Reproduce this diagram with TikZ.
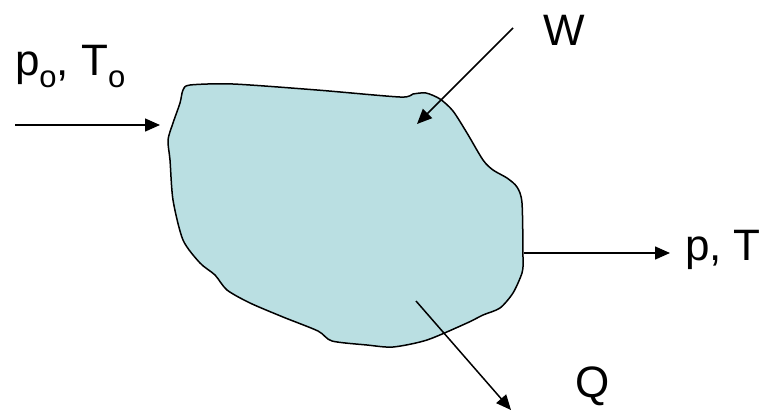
\documentclass[tikz,border=0pt]{standalone}
\usepackage{fontspec}
\setmainfont{Liberation Sans}
\usetikzlibrary{arrows.meta}
\definecolor{blobfill}{RGB}{186,223,226}
\newcommand{\lowsub}[1]{\raisebox{-12bp}{\fontsize{31bp}{32bp}\selectfont #1}}
\tikzset{
  lbl/.style={anchor=base west, inner sep=0pt, outer sep=0pt, font=\fontsize{44bp}{50bp}\selectfont},
  flow/.style={line width=1.5bp, -{Triangle[length=15bp,width=13bp]}},
  blob/.style={draw=black, line width=1.5bp, fill=blobfill}
}
\begin{document}
\begin{tikzpicture}[x=1bp,y=-1bp]
\useasboundingbox (0,0) rectangle (769,412);
\fill[white] (0,0) rectangle (769,412);
% control volume
\draw[blob] plot[smooth cycle, tension=0.45] coordinates {
 (190,85) (233,84) (317,90) (400,97) (413,94) (426,93) (440,99) (453,111) (467,133)
 (483,160) (493,170) (507,178) (517,187) (522,203) (523,260) (522,273)
 (513,293) (500,308) (483,315) (467,323) (427,340) (393,347) (367,345)
 (332,341) (318,331) (283,317) (250,303) (227,290) (215,275) (200,263)
 (183,240) (173,200) (170,160) (168,140) (173,123) (180,103) (183,90)};
% labels
\node[lbl] (lin) at (15,75) {p\lowsub{o}, T\lowsub{o}};
\node[lbl] (lw) at (543,45) {W};
\node[lbl] (lout) at (685,260) {p, T};
\node[lbl] (lq) at (575,397) {Q};
% arrow end points
\coordinate (inS) at (15,125);
\coordinate (inE) at (160,125);
\coordinate (wS) at (513,28);
\coordinate (wE) at (417,124);
\coordinate (outS) at (524,253);
\coordinate (outE) at (670,253);
\coordinate (qS) at (416,301);
\coordinate (qE) at (511,410);
\draw[flow] (inS) -- (inE);
\draw[flow] (wS) -- (wE);
\draw[flow] (outS) -- (outE);
\draw[flow] (qS) -- (qE);
\end{tikzpicture}
\end{document}
